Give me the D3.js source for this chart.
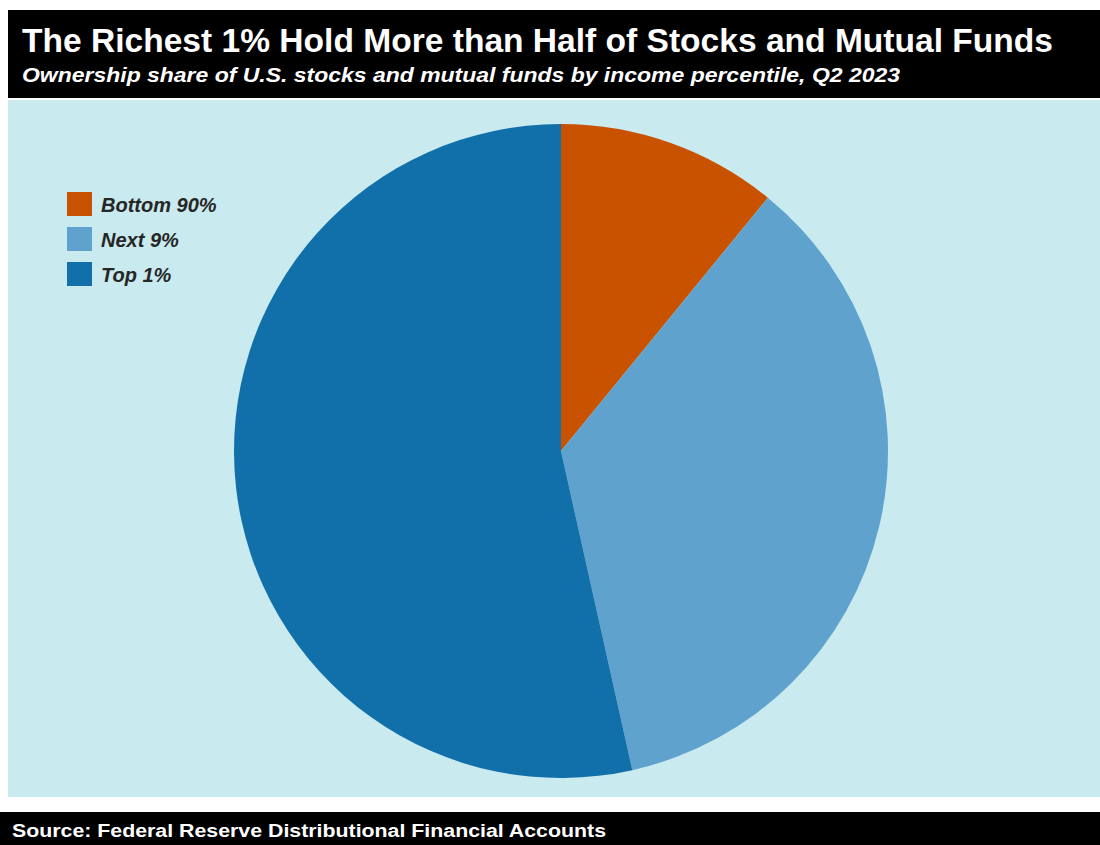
<!DOCTYPE html>
<html>
<head>
<meta charset="utf-8">
<script src="https://cdn.jsdelivr.net/npm/d3@7.9.0/dist/d3.min.js"></script>
<style>
  body { margin: 0; background: #fff; }
  svg { display: block; font-family: "Liberation Sans", Arial, sans-serif; }
</style>
</head>
<body>
<svg width="1100" height="845"></svg>
<script>
// data
const groups = ['Bottom 90%', 'Next 9%', 'Top 1%'];
const shares = [10.9, 35.6, 53.5];
const colors = ['#c85200', '#5fa2ce', '#1170aa'];

const svg = d3.select('svg');

// header
svg.append('rect').attr('x', 8).attr('y', 10).attr('width', 1092).attr('height', 88).attr('fill', '#000');
svg.append('text').attr('x', 22).attr('y', 52)
  .attr('fill', '#fff').attr('font-size', 33).attr('font-weight', 'bold')
  .attr('textLength', 1031).attr('lengthAdjust', 'spacingAndGlyphs')
  .text('The Richest 1% Hold More than Half of Stocks and Mutual Funds');
svg.append('text').attr('x', 22).attr('y', 82)
  .attr('fill', '#fff').attr('font-size', 21).attr('font-weight', 'bold').attr('font-style', 'italic')
  .attr('textLength', 878).attr('lengthAdjust', 'spacingAndGlyphs')
  .text('Ownership share of U.S. stocks and mutual funds by income percentile, Q2 2023');

// plot panel
svg.append('rect').attr('x', 8).attr('y', 100).attr('width', 1092).attr('height', 697).attr('fill', '#c9eaee');

// pie
const cx = 561, cy = 451, r = 327;
const pie = d3.pie().sort(null).value(d => d.value);
const arc = d3.arc().innerRadius(0).outerRadius(r);
const data = groups.map((g, i) => ({ label: g, value: shares[i], color: colors[i] }));

svg.append('g').attr('transform', `translate(${cx},${cy})`)
  .selectAll('path')
  .data(pie(data))
  .join('path')
  .attr('d', arc)
  .attr('fill', d => d.data.color);

// legend
const legend = svg.append('g').attr('transform', 'translate(67,192)');
data.forEach((d, i) => {
  const row = legend.append('g').attr('transform', `translate(0,${i * 35})`);
  row.append('rect').attr('width', 25).attr('height', 24).attr('fill', d.color);
  row.append('text').attr('x', 34).attr('y', 20)
    .attr('font-size', 20).attr('font-style', 'italic').attr('font-weight', 'bold')
    .attr('fill', '#262626')
    .text(d.label);
});

// footer
svg.append('rect').attr('x', 0).attr('y', 812).attr('width', 1100).attr('height', 33).attr('fill', '#000');
svg.append('text').attr('x', 12).attr('y', 837)
  .attr('fill', '#fff').attr('font-size', 18).attr('font-weight', 'bold')
  .attr('textLength', 594).attr('lengthAdjust', 'spacingAndGlyphs')
  .text('Source: Federal Reserve Distributional Financial Accounts');
</script>
</body>
</html>
